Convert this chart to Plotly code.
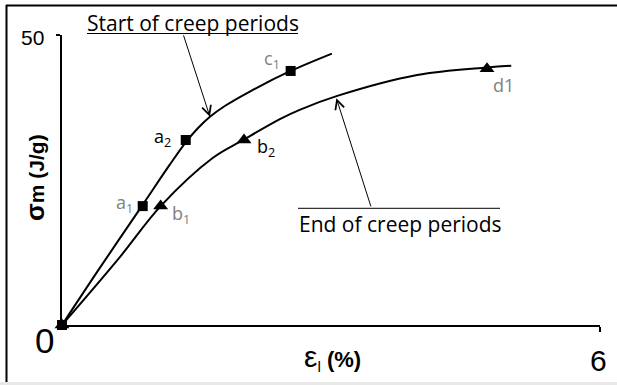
import plotly.graph_objects as go

# curve through the start-of-creep points (strain %, sigma_m J/g)
start_x = [0, 0.42, 0.89, 1.20, 1.38, 1.52, 1.65, 1.82, 2.10, 2.55, 3.01]
start_y = [0, 9.8, 20.5, 27.6, 31.5, 34.0, 35.9, 37.8, 40.3, 43.8, 46.8]

# curve through the end-of-creep points
end_x = [0, 0.65, 1.10, 1.68, 2.02, 2.43, 2.65, 3.07, 3.96, 4.74, 5.01]
end_y = [0, 11.8, 20.5, 28.8, 31.9, 35.5, 37.1, 39.5, 43.1, 44.4, 44.7]

# marked points
sq_names = ["", "a<sub>1</sub>", "a<sub>2</sub>", "c<sub>1</sub>"]
sq_x = [0, 0.90, 1.38, 2.55]
sq_y = [0, 20.5, 31.9, 43.8]

tri_names = ["", "b<sub>1</sub>", "b<sub>2</sub>", "d1"]
tri_x = [0, 1.10, 2.03, 4.74]
tri_y = [0, 20.5, 31.9, 44.2]

W, H = 617, 385
L, R, T, B = 62, 600, 35, 325


def px(x):
    return (x - L) / (R - L)


def py(y):
    return (B - y) / (B - T)


GRAY = "#808080"
LBL = "Open Sans, Noto Sans, sans-serif"
NUM = "Liberation Sans Narrow, Liberation Sans, Arial, sans-serif"

fig = go.Figure()
fig.add_trace(go.Scatter(x=start_x, y=start_y, mode="lines", line_shape="spline",
                         line=dict(color="black", width=2), cliponaxis=False))
fig.add_trace(go.Scatter(x=end_x, y=end_y, mode="lines", line_shape="spline",
                         line=dict(color="black", width=2), cliponaxis=False))
fig.add_trace(go.Scatter(x=tri_x, y=tri_y, mode="markers", cliponaxis=False,
                         marker=dict(symbol="triangle-up", size=13, color="black")))
fig.add_trace(go.Scatter(x=sq_x, y=sq_y, mode="markers", cliponaxis=False,
                         marker=dict(symbol="square", size=10, color="black")))

annotations = []

# point labels: offsets in pixels and colour
offsets_sq = [None, (-18, 3, GRAY), (-23, 2, "black"), (-19, 11, GRAY)]
offsets_tri = [None, (20, -8, GRAY), (22, -8, "black"), (16, -16, GRAY)]
for names, xs, ys, offs in [(sq_names, sq_x, sq_y, offsets_sq),
                            (tri_names, tri_x, tri_y, offsets_tri)]:
    for n, x, y, o in zip(names, xs, ys, offs):
        if not n:
            continue
        annotations.append(dict(x=x, y=y, xref="x", yref="y", text=n, showarrow=False,
                                xanchor="center", yanchor="middle",
                                xshift=o[0], yshift=o[1],
                                font=dict(family=LBL, size=18, color=o[2])))


def label(x, y, text, size, family=LBL, **kw):
    d = dict(x=px(x), y=py(y), xref="paper", yref="paper", text=text, showarrow=False,
             xanchor="center", yanchor="middle",
             font=dict(family=family, size=size, color="black"))
    d.update(kw)
    return d


# callouts
annotations += [
    label(192.5, 23, "Start of creep periods", 21),
    label(400, 224, "End of creep periods", 21),
    dict(x=1.65, y=35.9, xref="x", yref="y", ax=1.35, ay=50.2, axref="x", ayref="y",
         text="", showarrow=True, arrowhead=5, arrowsize=1.8, arrowwidth=1, arrowcolor="black"),
    dict(x=3.06, y=39.1, xref="x", yref="y", ax=3.45, ay=20.2, axref="x", ayref="y",
         text="", showarrow=True, arrowhead=5, arrowsize=1.8, arrowwidth=1, arrowcolor="black"),
]

# tick labels and axis titles
annotations += [
    label(32, 37, "50", 21, NUM),
    label(44, 340, "0", 35, NUM),
    label(598.5, 360, "6", 30, NUM),
    label(332, 357, "<span style='font-size:30px'>ε</span><sub>l</sub> <b>(%)</b>", 22, NUM),
    label(35, 178, "<b><span style='font-size:26px'>σ</span>m (J/g)</b>", 21, NUM, textangle=-90),
]

shapes = [
    # frame
    dict(type="line", xref="paper", yref="paper", x0=px(6), x1=px(617), y0=py(5.5), y1=py(5.5),
         line=dict(color="black", width=2)),
    dict(type="line", xref="paper", yref="paper", x0=px(6.5), x1=px(6.5), y0=py(5), y1=py(382),
         line=dict(color="black", width=2)),
    dict(type="rect", xref="paper", yref="paper", x0=px(0), x1=px(617), y0=py(382), y1=py(385),
         line=dict(width=0), fillcolor="#e8e8e8"),
    # under/over lines of the callouts
    dict(type="line", xref="paper", yref="paper", x0=px(87), x1=px(298), y0=py(33.5), y1=py(33.5),
         line=dict(color="black", width=1)),
    dict(type="line", xref="paper", yref="paper", x0=px(298), x1=px(500), y0=py(208.3), y1=py(208.3),
         line=dict(color="black", width=1)),
]

fig.update_layout(
    width=W, height=H,
    margin=dict(l=L, r=W - R, t=T, b=H - B),
    paper_bgcolor="white", plot_bgcolor="white",
    showlegend=False,
    annotations=annotations,
    shapes=shapes,
    xaxis=dict(range=[0, 6], showgrid=False, zeroline=False, showline=True,
               linecolor="black", linewidth=2, ticks="outside", tickvals=[6],
               ticklen=5, tickwidth=2, tickcolor="black", showticklabels=False),
    yaxis=dict(range=[0, 50], showgrid=False, zeroline=False, showline=True,
               linecolor="black", linewidth=2, ticks="outside", tickvals=[50],
               ticklen=4, tickwidth=2, tickcolor="black", showticklabels=False),
)

fig.write_html("out.html", config={"displayModeBar": False},
               post_script="document.body.style.margin='0';document.body.style.overflow='hidden';")
